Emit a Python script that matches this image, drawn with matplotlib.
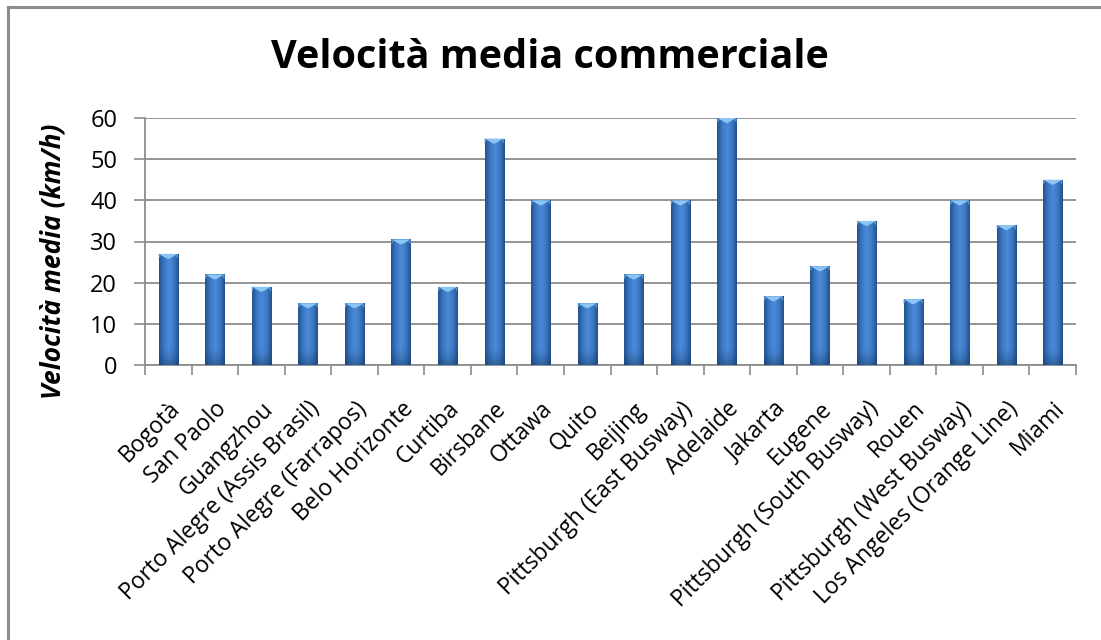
import numpy as np
import matplotlib
matplotlib.use("Agg")
import matplotlib.pyplot as plt
import matplotlib.transforms as mtransforms
from matplotlib.patches import Rectangle, Polygon
from matplotlib.colors import LinearSegmentedColormap

citta = [
    "Bogotà", "San Paolo", "Guangzhou", "Porto Alegre (Assis Brasil)",
    "Porto Alegre (Farrapos)", "Belo Horizonte", "Curtiba", "Birsbane",
    "Ottawa", "Quito", "Beijing", "Pittsburgh (East Busway)", "Adelaide",
    "Jakarta", "Eugene", "Pittsburgh (South Busway)", "Rouen",
    "Pittsburgh (West Busway)", "Los Angeles (Orange Line)", "Miami",
]
velocita = [27, 22, 19, 15, 15, 30.5, 19, 55, 40, 15, 22, 40, 60,
            16.7, 24, 35, 16, 40, 34, 45]
y_ticks = [0, 10, 20, 30, 40, 50, 60]

plt.rcParams["font.family"] = ["Open Sans", "DejaVu Sans"]

fig = plt.figure(figsize=(11.01, 6.40), dpi=100)
ax = fig.add_axes([145 / 1101, 1 - 365 / 640, (1076 - 145) / 1101, (365 - 118) / 640])

# frame lines along the top and left edge of the figure
fig.add_artist(plt.Line2D([8 / 1101, 1], [1 - 7 / 640, 1 - 7 / 640],
                          transform=fig.transFigure, color="#8c8c8c", lw=2.2))
fig.add_artist(plt.Line2D([8 / 1101, 8 / 1101], [0, 1 - 7 / 640],
                          transform=fig.transFigure, color="#8c8c8c", lw=2.2))

x = np.arange(len(citta))
width = 0.41

ax.set_xlim(-0.5, len(citta) - 0.5)
ax.set_ylim(0, 60)

# horizontal gradient: dark edges, lighter centre
cmap = LinearSegmentedColormap.from_list(
    "bar", ["#22528f", "#3a78c4", "#4a8ad6", "#3c7ac6", "#244f88"])
grad = np.linspace(0, 1, 64).reshape(1, -1)
# vertical darkening toward the base
shade_rgba = np.zeros((64, 1, 4))
shade_rgba[..., :3] = np.array([0x16, 0x33, 0x5e]) / 255
shade_rgba[..., 3] = np.linspace(0, 0.45, 64).reshape(-1, 1) ** 1.5 / 0.45 ** 0.5

for xi, v in zip(x, velocita):
    x0, x1 = xi - width / 2, xi + width / 2
    clip = Rectangle((x0, 0), width, v, transform=ax.transData)
    im = ax.imshow(grad, cmap=cmap, extent=[x0, x1, 0, v], aspect="auto",
                   zorder=3, interpolation="bilinear")
    im.set_clip_path(clip)
    h = min(v, 4.0)
    im2 = ax.imshow(shade_rgba, extent=[x0, x1, 0, h], aspect="auto",
                    origin="upper", zorder=3.5, interpolation="bilinear")
    im2.set_clip_path(clip)
    # light cap at the top of the bar
    cap = 1.2
    ax.add_patch(Polygon([(x0, v), (x1, v), (xi + width * 0.05, v - cap),
                          (xi - width * 0.05, v - cap)],
                         closed=True, color="#8cc4f4", lw=0, zorder=4))
    ax.add_patch(Polygon([(x0, v), (x0 + width * 0.1, v - 0.5), (x0, v - 1.2)],
                         closed=True, color="#5d9ee0", lw=0, zorder=4))
    ax.add_patch(Polygon([(x1, v), (x1 - width * 0.1, v - 0.5), (x1, v - 1.2)],
                         closed=True, color="#5d9ee0", lw=0, zorder=4))

ax.set_yticks(y_ticks)
ax.set_yticklabels([str(t) for t in y_ticks], fontsize=17)
ax.yaxis.grid(True, color="#8c8c8c", lw=1.3)
ax.set_axisbelow(True)

ax.set_xticks(x)
ax.set_xticklabels(citta, rotation=45, ha="right", rotation_mode="anchor",
                   fontsize=16.5)
shift = mtransforms.ScaledTranslation(-5 / 100, 0, fig.dpi_scale_trans)
for lbl in ax.get_xticklabels():
    lbl.set_transform(lbl.get_transform() + shift)
ax.set_xticks(np.arange(-0.5, len(citta)), minor=True)
ax.tick_params(axis="x", which="major", length=0, pad=23)
ax.tick_params(axis="x", which="minor", length=7, color="#8c8c8c", width=1.2)
ax.tick_params(axis="y", length=8, color="#8c8c8c", width=1.2, pad=12)

for side in ("top", "right"):
    ax.spines[side].set_visible(False)
for side in ("left", "bottom"):
    ax.spines[side].set_color("#8c8c8c")
    ax.spines[side].set_linewidth(1.3)

ax.set_ylabel("Velocità media (km/h)", fontsize=19, fontweight="bold",
              fontstyle="italic")
ax.yaxis.set_label_coords(-0.084, 0.42)
fig.text(550 / 1101, 1 - 57 / 640, "Velocità media commerciale",
         ha="center", va="center", fontsize=28.5, fontweight="bold")

fig.savefig("out.png", dpi=100)
